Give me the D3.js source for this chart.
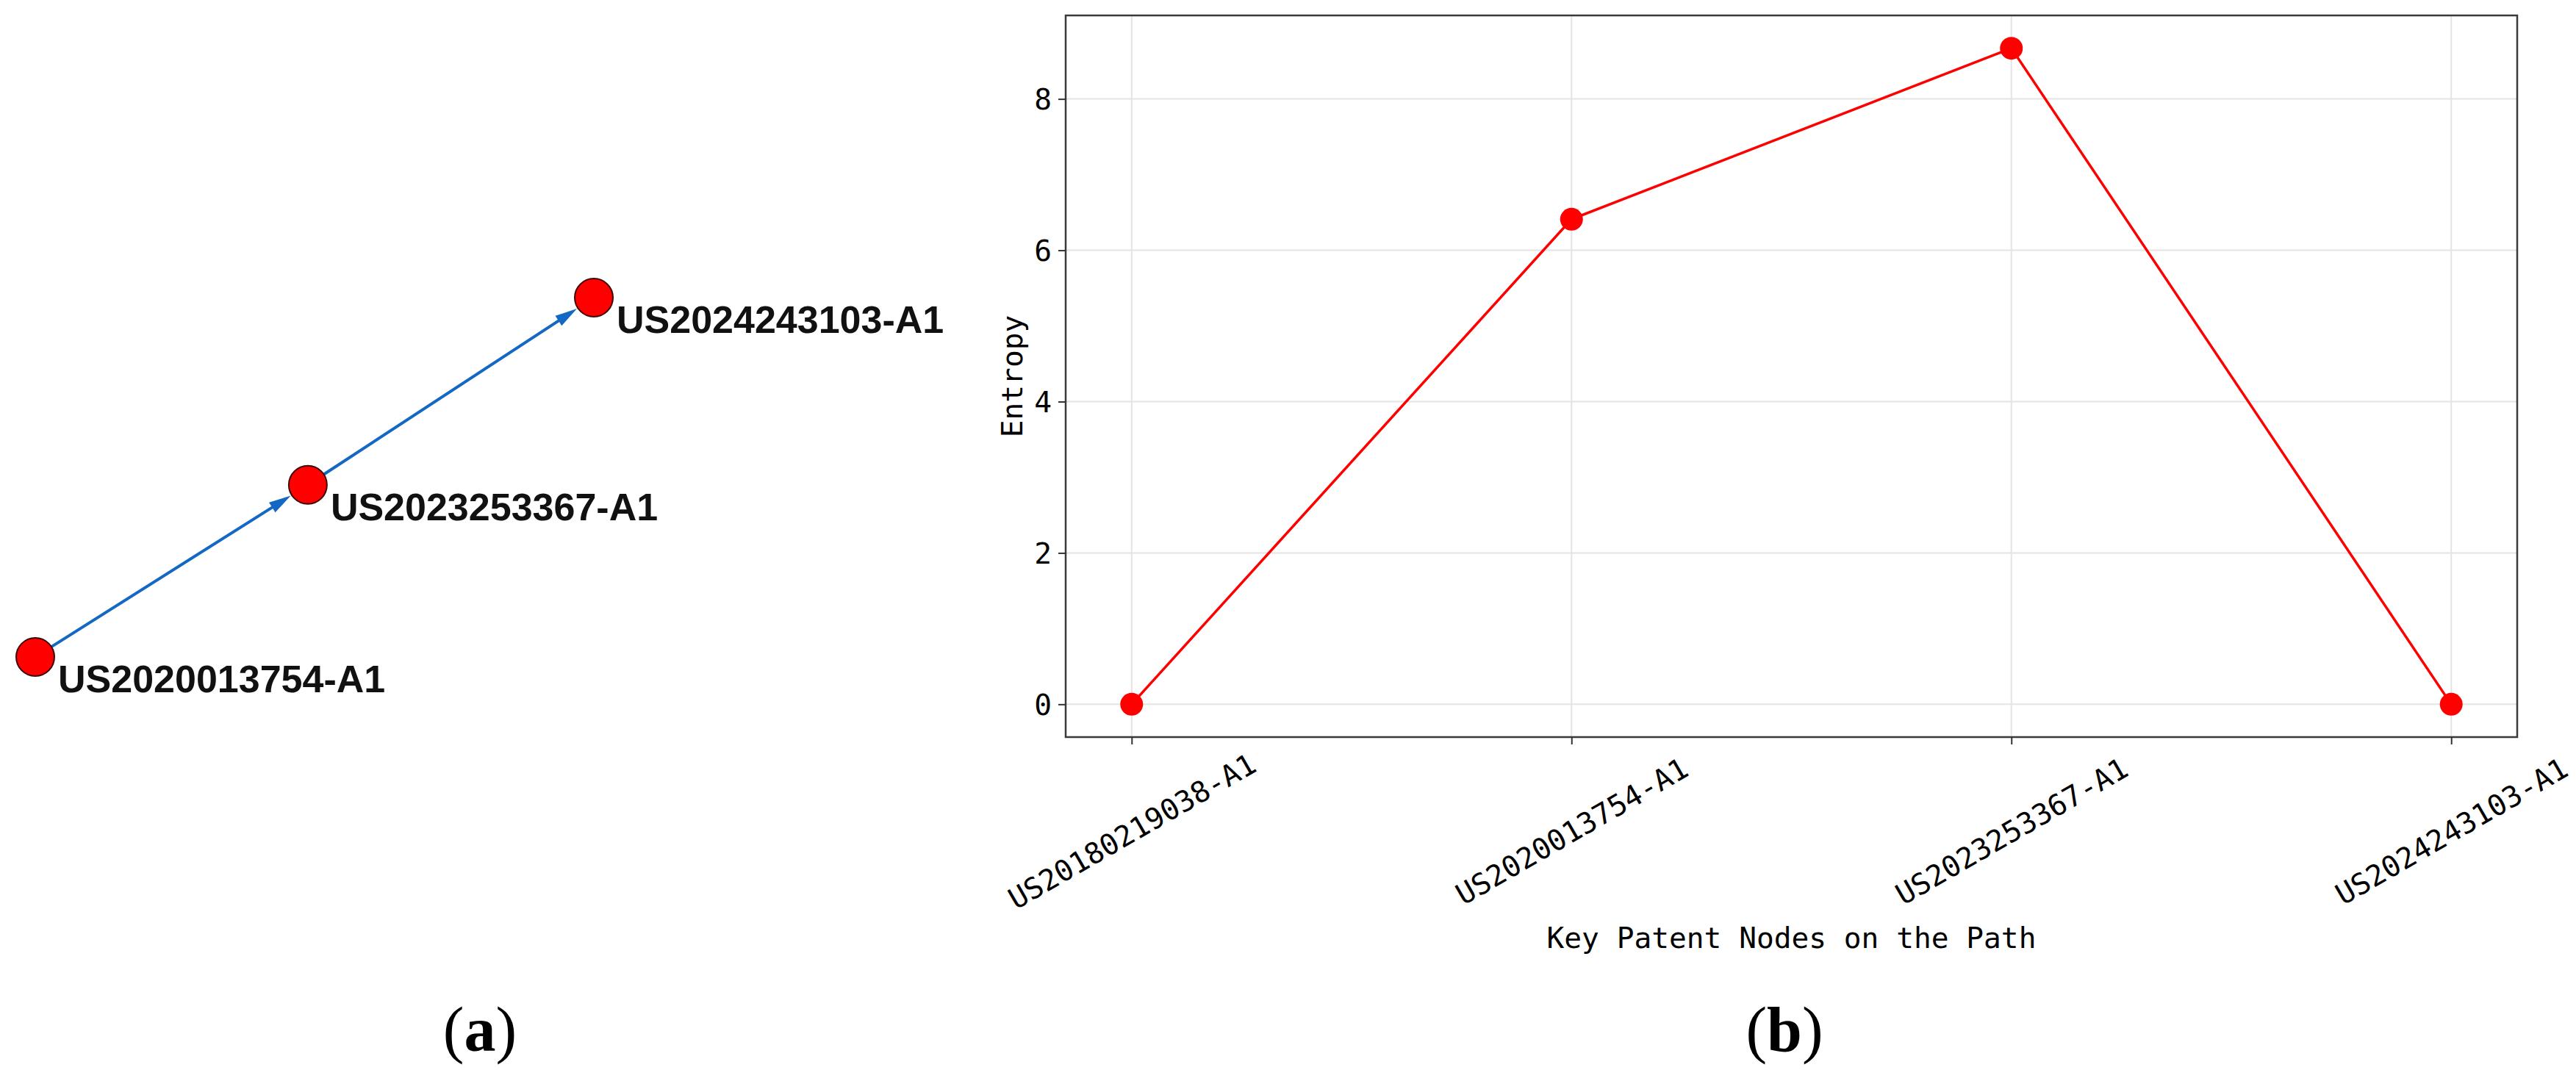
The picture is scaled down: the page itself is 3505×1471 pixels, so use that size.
<!DOCTYPE html>
<html>
<head>
<meta charset="utf-8">
<script src="https://cdn.jsdelivr.net/npm/d3@7"></script>
<style>
  html, body { margin: 0; padding: 0; background: #ffffff; }
  svg { display: block; }
</style>
</head>
<body>
<div id="chart"></div>
<script>
// ---------- Data: panel (b) line chart ----------
const categories = ["US20180219038-A1", "US2020013754-A1", "US2023253367-A1", "US2024243103-A1"];
const entropyValues = [0, 6.41, 8.67, 0];
const yTickValues = [0, 2, 4, 6, 8];
const xAxisTitle = "Key Patent Nodes on the Path";
const yAxisTitle = "Entropy";

// ---------- Data: panel (a) path graph ----------
const nodeIds = ["US2020013754-A1", "US2023253367-A1", "US2024243103-A1"];
const nodePosX = [0, 0.488, 1.0];   // layout coordinates
const nodePosY = [0, 0.479, 1.0];
const edgeSource = [0, 1];
const edgeTarget = [1, 2];

const panelLabels = ["a", "b"];

(function () {
// ---------- SVG ----------
const W = 3505, H = 1471;
const svg = d3.select("#chart").append("svg")
  .attr("width", W).attr("height", H)
  .attr("viewBox", `0 0 ${W} ${H}`);
svg.append("rect").attr("width", W).attr("height", H).attr("fill", "#ffffff");

// ================= Panel (a): graph =================
const gA = svg.append("g");
const gx = d3.scaleLinear().domain([0, 1]).range([48, 808]);
const gy = d3.scaleLinear().domain([0, 1]).range([894, 405]);
const nodeR = 26;
const arrowLen = 30, arrowHalfW = 8;
const edgeColor = "#1368c4";

const edges = edgeSource.map((s, i) => ({ s, t: edgeTarget[i] }));
edges.forEach(e => {
  const x1 = gx(nodePosX[e.s]), y1 = gy(nodePosY[e.s]);
  const x2 = gx(nodePosX[e.t]), y2 = gy(nodePosY[e.t]);
  const dx = x2 - x1, dy = y2 - y1, L = Math.hypot(dx, dy);
  const ux = dx / L, uy = dy / L;
  const sx = x1 + ux * nodeR, sy = y1 + uy * nodeR;
  const tx = x2 - ux * (nodeR + 1.5), ty = y2 - uy * (nodeR + 1.5);
  const bx = tx - ux * arrowLen, by = ty - uy * arrowLen;
  gA.append("line")
    .attr("x1", sx).attr("y1", sy)
    .attr("x2", bx + ux * 4).attr("y2", by + uy * 4)
    .attr("stroke", edgeColor).attr("stroke-width", 4);
  const px = -uy, py = ux;
  gA.append("path")
    .attr("d", `M${tx},${ty} L${bx + px * arrowHalfW},${by + py * arrowHalfW} L${bx - px * arrowHalfW},${by - py * arrowHalfW} Z`)
    .attr("fill", edgeColor);
});

gA.selectAll("circle.node").data(nodeIds).join("circle")
  .attr("class", "node")
  .attr("cx", (d, i) => gx(nodePosX[i]))
  .attr("cy", (d, i) => gy(nodePosY[i]))
  .attr("r", nodeR)
  .attr("fill", "#ff0000")
  .attr("stroke", "#3a0505")
  .attr("stroke-width", 2);

gA.selectAll("text.nlabel").data(nodeIds).join("text")
  .attr("class", "nlabel")
  .attr("x", (d, i) => gx(nodePosX[i]) + 31)
  .attr("y", (d, i) => gy(nodePosY[i]) + 48)
  .attr("font-family", "'Liberation Sans', Arial, sans-serif")
  .attr("font-weight", "bold")
  .attr("font-size", 52)
  .attr("fill", "#111")
  .text(d => d);

// ================= Panel (b): line chart =================
const gB = svg.append("g");
const pLeft = 1450, pRight = 3425, pTop = 21, pBottom = 1003;
const n = categories.length;
const xPad = (n - 1) * 0.05;
const x = d3.scaleLinear().domain([-xPad, (n - 1) + xPad]).range([pLeft, pRight]);
const yMax = d3.max(entropyValues), yMin = d3.min(entropyValues);
const yPad = (yMax - yMin) * 0.05;
const y = d3.scaleLinear().domain([yMin - yPad, yMax + yPad]).range([pBottom, pTop]);

const tickFont = "'DejaVu Sans Mono', 'Liberation Mono', monospace";
const tickSize = 39.5;

// grid
gB.append("g").selectAll("line").data(d3.range(n)).join("line")
  .attr("x1", d => x(d)).attr("x2", d => x(d))
  .attr("y1", pTop).attr("y2", pBottom)
  .attr("stroke", "#e4e4e4").attr("stroke-width", 2);
gB.append("g").selectAll("line").data(yTickValues).join("line")
  .attr("x1", pLeft).attr("x2", pRight)
  .attr("y1", d => y(d)).attr("y2", d => y(d))
  .attr("stroke", "#e4e4e4").attr("stroke-width", 2);

// line + markers
const lineGen = d3.line().x((d, i) => x(i)).y(d => y(d));
gB.append("path").datum(entropyValues)
  .attr("d", lineGen)
  .attr("fill", "none")
  .attr("stroke", "#ff0000")
  .attr("stroke-width", 3.5);
gB.selectAll("circle.pt").data(entropyValues).join("circle")
  .attr("class", "pt")
  .attr("cx", (d, i) => x(i)).attr("cy", d => y(d))
  .attr("r", 15.5).attr("fill", "#ff0000");

// frame
gB.append("rect")
  .attr("x", pLeft).attr("y", pTop)
  .attr("width", pRight - pLeft).attr("height", pBottom - pTop)
  .attr("fill", "none").attr("stroke", "#3a3a3a").attr("stroke-width", 2.5);

// y axis
const yAxis = gB.append("g").attr("transform", `translate(${pLeft},0)`)
  .call(d3.axisLeft(y).tickValues(yTickValues).tickSize(10).tickPadding(9).tickFormat(d3.format("d")));
yAxis.select(".domain").remove();
yAxis.selectAll(".tick line").attr("stroke", "#333").attr("stroke-width", 2);
yAxis.selectAll(".tick text")
  .attr("font-family", tickFont).attr("font-size", tickSize).attr("fill", "#000")
  .attr("dy", "0.36em");

// x axis
const xAxis = gB.append("g").attr("transform", `translate(0,${pBottom})`)
  .call(d3.axisBottom(x).tickValues(d3.range(n)).tickSize(10).tickFormat(i => categories[i]));
xAxis.select(".domain").remove();
xAxis.selectAll(".tick line").attr("stroke", "#333").attr("stroke-width", 2);
xAxis.selectAll(".tick text")
  .attr("font-family", tickFont).attr("font-size", tickSize).attr("fill", "#000")
  .attr("y", 0).attr("dy", null)
  .attr("text-anchor", "middle")
  .attr("dominant-baseline", "central")
  .attr("transform", "translate(0,128) rotate(-30)");

// axis titles
gB.append("text")
  .attr("x", (pLeft + pRight) / 2).attr("y", 1290)
  .attr("text-anchor", "middle")
  .attr("font-family", tickFont).attr("font-size", tickSize).attr("fill", "#000")
  .text(xAxisTitle);
gB.append("text")
  .attr("transform", `translate(1377,${(pTop + pBottom) / 2}) rotate(-90)`)
  .attr("text-anchor", "middle")
  .attr("dominant-baseline", "central")
  .attr("font-family", tickFont).attr("font-size", tickSize).attr("fill", "#000")
  .text(yAxisTitle);

// panel labels
const panelX = [653, 2428];
panelLabels.forEach((lab, i) => {
  const t = svg.append("text")
    .attr("x", panelX[i]).attr("y", 1430)
    .attr("text-anchor", "middle")
    .attr("font-family", "'Liberation Serif', 'Times New Roman', serif")
    .attr("font-size", 86).attr("fill", "#000");
  t.append("tspan").text("(");
  t.append("tspan").attr("font-weight", "bold").text(lab);
  t.append("tspan").text(")");
});
})();
</script>
</body>
</html>
